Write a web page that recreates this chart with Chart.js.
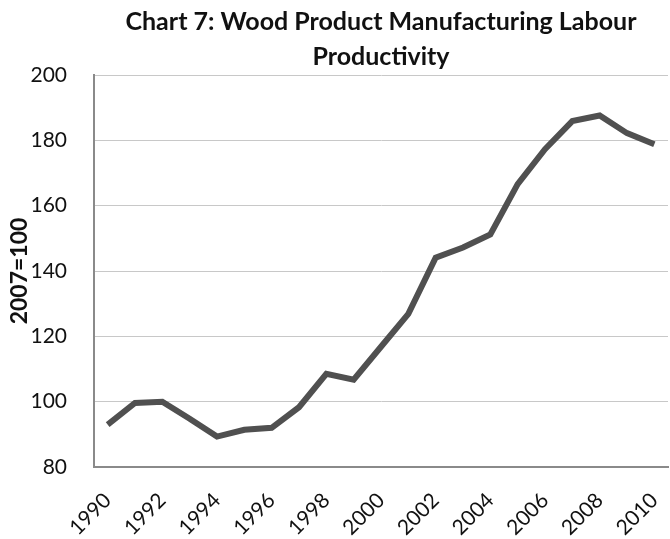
<!DOCTYPE html>
<html>
<head>
<meta charset="utf-8">
<script src="https://cdn.jsdelivr.net/npm/chart.js@4"></script>
<style>
  body { margin: 0; background: #fff; }
  #wrap { width: 670px; height: 539px; }
</style>
</head>
<body>
<div id="wrap"><canvas id="myChart"></canvas></div>
<script>
"use strict";

const years = ['1990', '1991', '1992', '1993', '1994', '1995', '1996', '1997', '1998', '1999', '2000',
  '2001', '2002', '2003', '2004', '2005', '2006', '2007', '2008', '2009', '2010'];
const productivity = [93, 99.6, 100, 94.8, 89.3, 91.4, 92, 98.3, 108.5, 106.7, 116.8,
  126.9, 144.1, 147.2, 151.2, 166.6, 177.3, 185.9, 187.6, 182.2, 178.8];
const yTicks = [80, 100, 120, 140, 160, 180, 200];

const ctx = document.querySelector('#myChart').getContext('2d');

const data = {
  labels: years,
  datasets: [
    {
      data: productivity,
      label: 'Labour productivity',
      borderColor: '#505050',
      borderWidth: 6,
      pointRadius: 0,
      tension: 0,
      fill: false,
    },
  ]
};

const config = {
  type: 'line',
  data: data,
  options: {
    responsive: true,
    maintainAspectRatio: false,
    animation: false,
    layout: {
      padding: { top: 4, right: 2, left: 4, bottom: 2 }
    },
    plugins: {
      legend: { display: false },
      tooltip: { enabled: false },
      title: {
        display: true,
        fullSize: false,
        text: ['Chart 7: Wood Product Manufacturing Labour', 'Productivity'],
        color: '#111',
        font: { family: 'Lato', size: 25, weight: 'bold', lineHeight: 1.42 },
        padding: { top: 0, bottom: 0 }
      }
    },
    scales: {
      x: {
        offset: true,
        grid: { display: false },
        border: { color: '#8a8a8a', width: 2 },
        afterFit: (axis) => {
          axis.paddingLeft = 0;
          axis.paddingRight = 0;
          axis.height = 70;
        },
        ticks: {
          autoSkip: false,
          color: '#111',
          maxRotation: 45,
          minRotation: 45,
          padding: 13,
          font: { family: 'Lato', size: 21 },
          callback: function (val, i) { return i % 2 === 0 ? years[i] : ''; }
        }
      },
      y: {
        min: 80,
        max: 200,
        afterBuildTicks: (axis) => { axis.ticks = yTicks.map(v => ({ value: v })); },
        afterFit: (axis) => { axis.width = 90; },
        grid: { color: '#c8c8c8', drawTicks: false },
        border: { color: '#8a8a8a', width: 2 },
        title: {
          display: true,
          text: '2007=100',
          color: '#111',
          font: { family: 'Lato', size: 23, weight: 'bold' },
          padding: { top: 2, bottom: 0 }
        },
        ticks: {
          color: '#111',
          padding: 27,
          font: { family: 'Lato', size: 21 }
        }
      }
    }
  }
};

const myChart = new Chart(ctx, config);
</script>
</body>
</html>
